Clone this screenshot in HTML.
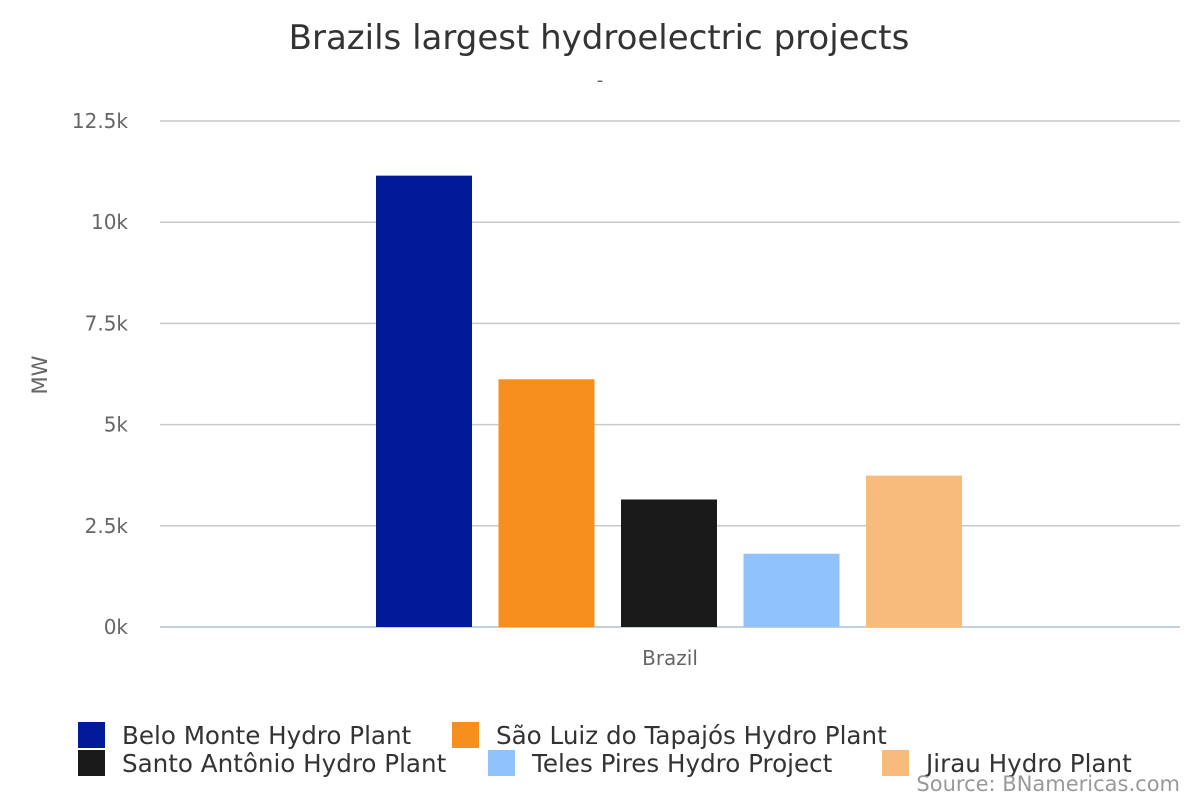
<!DOCTYPE html>
<html><head><meta charset="utf-8"><style>
body{margin:0;background:#fff;}
svg{display:block;font-family:"DejaVu Sans","Liberation Sans",sans-serif;}
</style></head><body>
<svg id="chart" width="1200" height="800">
<text x="599" y="49" text-anchor="middle" font-size="34" fill="#333">Brazils largest hydroelectric projects</text>
<text x="600" y="86" text-anchor="middle" font-size="18" fill="#666">-</text>
<text transform="translate(47,375) rotate(-90)" text-anchor="middle" font-size="21" fill="#666">MW</text>
<text x="670" y="665" text-anchor="middle" font-size="20" fill="#666">Brazil</text>
<g id="grid"></g><g id="bars"></g><g id="legend"></g>
<text x="1180" y="791" text-anchor="end" font-size="21" fill="#999">Source: BNamericas.com</text>
</svg>
<script>
const seriesNames=["Belo Monte Hydro Plant","São Luiz do Tapajós Hydro Plant","Santo Antônio Hydro Plant","Teles Pires Hydro Project","Jirau Hydro Plant"];
const seriesValues=[11150,6120,3150,1810,3740];
const seriesColors=["#001a99","#f78f1e","#1a1a1a","#90c3fc","#f9bb7b"];
const tickValues=[0,2500,5000,7500,10000,12500];
const tickLabels=["0k","2.5k","5k","7.5k","10k","12.5k"];
const NS="http://www.w3.org/2000/svg";
const y0=627,y1=121,yMax=12500;
const y=v=>y0-(v/yMax)*(y0-y1);
function mk(t,a,p){const e=document.createElementNS(NS,t);for(const k in a)e.setAttribute(k,a[k]);p.appendChild(e);return e;}
const grid=document.getElementById('grid');
tickValues.forEach((v,i)=>{
  const l=mk('line',{x1:160,x2:1180,y1:y(v),y2:y(v),stroke:v===0?'#c0d0e0':'#c8c8c8','stroke-width':v===0?2:1.5},grid);
  
  
  const t=mk('text',{x:128,y:y(v)+7,'text-anchor':'end','font-size':20,fill:'#666'},grid);
  t.textContent=tickLabels[i];
  
  
});
const bars=document.getElementById('bars');
const bw=96,step=122.5,start=376;
seriesValues.forEach((v,i)=>{
  const r=mk('rect',{x:start+i*step,y:y(v),width:bw,height:y0-y(v),fill:seriesColors[i]},bars);
  
  
});
const leg=document.getElementById('legend');
const pos=[[78,722],[452,722],[78,750],[488,750],[882,750]];
seriesNames.forEach((n,i)=>{
  const g=mk('g',{},leg);
  
  
  mk('rect',{x:pos[i][0],y:pos[i][1],width:27,height:26,fill:seriesColors[i]},g);
  const t=mk('text',{x:pos[i][0]+44,y:pos[i][1]+22,'font-size':24.6,fill:'#333'},g);
  t.textContent=n;
});
</script>
</body></html>
